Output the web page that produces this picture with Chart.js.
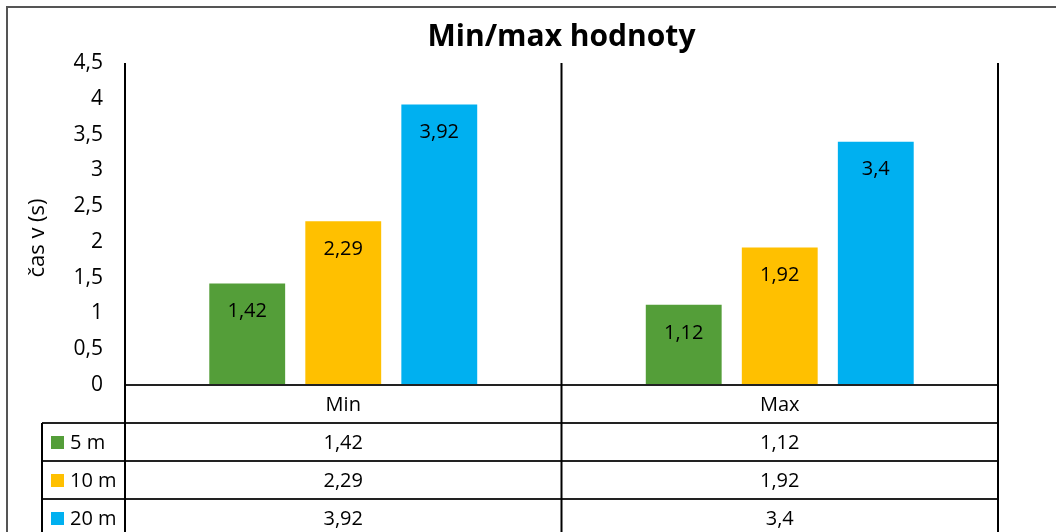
<!DOCTYPE html>
<html>
<head>
<meta charset="utf-8">
<script src="https://cdn.jsdelivr.net/npm/chart.js@4"></script>
<style>
  html,body{margin:0;padding:0;background:#fff;}
  #wrap{width:1056px;height:532px;}
</style>
</head>
<body>
<div id="wrap"><canvas id="c" width="1056" height="532"></canvas></div>
<script>
/* data */
const categories=["Min","Max"];
const seriesNames=["5 m","10 m","20 m"];
const val5=[1.42,1.12];
const val10=[2.29,1.92];
const val20=[3.92,3.4];
const yTicks=[0,0.5,1,1.5,2,2.5,3,3.5,4,4.5];
const TITLE="Min/max hodnoty";
const Y_TITLE="čas v (s)";
const COLORS=["#549E39","#FFC000","#00B0F0"];
const FONT="'Open Sans', Lato, sans-serif";
const ROW_H=38;

const fmt=(v)=>String(v).replace(".",",");

/* bar value labels, inside near the top */
const barLabels={
  id:"barLabels",
  afterDatasetsDraw(chart){
    const ctx=chart.ctx;
    ctx.save();
    ctx.font="20px "+FONT; ctx.fillStyle="#000"; ctx.textAlign="center"; ctx.textBaseline="middle";
    chart.data.datasets.forEach((ds,i)=>{
      chart.getDatasetMeta(i).data.forEach((el,j)=>{
        ctx.fillText(fmt(ds.data[j]),el.x,el.y+28);
      });
    });
    ctx.restore();
  }
};

/* titles, excel-like data table + frame lines */
const dataTable={
  id:"dataTable",
  afterDraw(chart){
    const ctx=chart.ctx, a=chart.chartArea, xs=chart.scales.x;
    const H=chart.height;
    const legL=42;
    const bounds=[a.left];
    for(let i=0;i<categories.length;i++){
      const c=xs.getPixelForValue(i);
      const next=i<categories.length-1?(c+xs.getPixelForValue(i+1))/2:a.right;
      bounds.push(next);
    }
    ctx.save();
    // chart title, centered over plot area
    ctx.font="bold 30px "+FONT; ctx.fillStyle="#000"; ctx.textAlign="center"; ctx.textBaseline="middle";
    ctx.fillText(TITLE,(a.left+a.right)/2,37);

    // y axis title
    ctx.save();
    ctx.translate(38,238); ctx.rotate(-Math.PI/2);
    ctx.font="22px "+FONT; ctx.fillText(Y_TITLE,0,0);
    ctx.restore();

    // outer chart frame (top / left)
    ctx.strokeStyle="#555"; ctx.lineWidth=2;
    ctx.beginPath(); ctx.moveTo(7,H+2); ctx.lineTo(7,7); ctx.lineTo(chart.width+2,7); ctx.stroke();

    // horizontal rows
    ctx.strokeStyle="#222"; ctx.lineWidth=2;
    ctx.beginPath(); ctx.moveTo(a.left,a.bottom); ctx.lineTo(a.right,a.bottom); ctx.stroke();
    for(let r=1;r<=3;r++){
      const y=a.bottom+ROW_H*r;
      ctx.beginPath(); ctx.moveTo(legL,y); ctx.lineTo(a.right,y); ctx.stroke();
    }
    // verticals
    ctx.strokeStyle="#000";
    bounds.forEach(x=>{ ctx.beginPath(); ctx.moveTo(x,a.top); ctx.lineTo(x,H+2); ctx.stroke(); });
    ctx.beginPath(); ctx.moveTo(legL,a.bottom+ROW_H); ctx.lineTo(legL,H+2); ctx.stroke();

    // table text
    ctx.font="20px "+FONT; ctx.fillStyle="#000"; ctx.textBaseline="middle"; ctx.textAlign="center";
    categories.forEach((c,i)=>ctx.fillText(c,xs.getPixelForValue(i),a.bottom+ROW_H/2+1));
    chart.data.datasets.forEach((ds,r)=>{
      const yc=a.bottom+ROW_H*(r+1)+ROW_H/2+1;
      ctx.textAlign="center"; ctx.fillStyle="#000";
      ds.data.forEach((v,i)=>ctx.fillText(fmt(v),xs.getPixelForValue(i),yc));
      ctx.fillStyle=ds.backgroundColor; ctx.fillRect(51,yc-7,13,13);
      ctx.fillStyle="#000"; ctx.textAlign="left"; ctx.fillText(ds.label,70,yc);
    });
    ctx.restore();
  }
};

const series=[val5,val10,val20];
new Chart(document.getElementById("c"),{
  type:"bar",
  data:{
    labels:categories,
    datasets:series.map((d,i)=>({label:seriesNames[i],data:d,backgroundColor:COLORS[i],borderWidth:0}))
  },
  options:{
    responsive:false,animation:false,
    categoryPercentage:0.66,barPercentage:0.79,
    layout:{padding:{left:0,right:58,top:63,bottom:147}},
    plugins:{legend:{display:false},tooltip:{enabled:false},title:{display:false}},
    scales:{
      x:{display:false},
      y:{
        min:0,max:4.5,
        afterFit(s){ s.width=125; },
        afterBuildTicks(s){ s.ticks=yTicks.map(v=>({value:v})); },
        grid:{display:false,drawTicks:false},
        border:{display:false},
        ticks:{color:"#000",padding:22,font:{family:FONT,size:21},callback:(v)=>fmt(v)}
      }
    }
  },
  plugins:[barLabels,dataTable]
});
</script>
</body>
</html>
